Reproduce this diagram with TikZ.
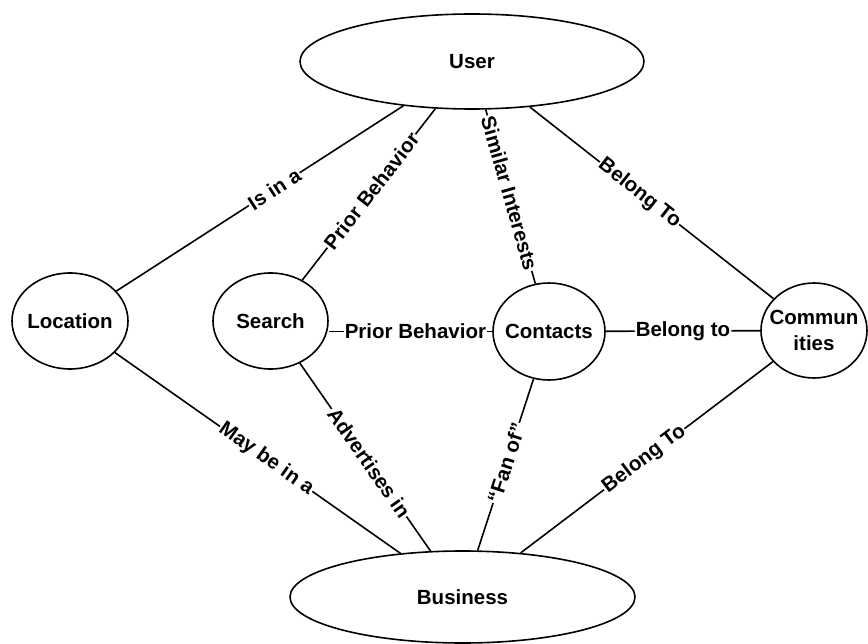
\documentclass[tikz,border=0pt]{standalone}
\usepackage{fontspec}
\setmainfont{Liberation Sans}
\usetikzlibrary{shapes.geometric}

\begin{document}
\begin{tikzpicture}[x=1pt, y=-1pt,
  every node/.style={font=\fontsize{20.5}{26}\selectfont\bfseries},
  entity/.style={draw, ellipse, line width=1.6pt, inner sep=0pt},
  link/.style={line width=1.6pt},
  tag/.style={fill=white, inner sep=1pt, sloped}]
\useasboundingbox (0,0) rectangle (868,644);

% entities
\node[entity, minimum width=344pt, minimum height=95pt, label=center:User] (user) at (472,61.5) {};
\node[entity, minimum width=345pt, minimum height=92pt, label=center:Business] (biz) at (462.5,597) {};
\node[entity, minimum width=116pt, minimum height=96pt, label=center:Location] (loc) at (70,321) {};
\node[entity, minimum width=115pt, minimum height=96pt, label=center:Search] (search) at (270.5,321) {};
\node[entity, minimum width=112pt, minimum height=97pt, label=center:Contacts] (contacts) at (549,331.5) {};
\node[entity, minimum width=106pt, minimum height=95pt, label={[align=center]center:Commun\\ities}] (comm) at (814,330.5) {};

% relations
\draw[link] (loc) -- node[tag, pos=0.55] {Is in a} (user);
\draw[link] (search) -- node[tag, pos=0.52] {Prior Behavior} (user);
\draw[link] (user) -- node[tag, pos=0.48] {Similar Interests} (contacts);
\draw[link] (user) -- node[tag, pos=0.45] {Belong To} (comm);
\draw[link] (search.east |- contacts.west) -- node[tag, pos=0.53] {Prior Behavior} (contacts.west);
\draw[link] (contacts) -- node[tag, pos=0.5] {Belong to} (comm);
\draw[link] (loc) -- node[tag, pos=0.53] {May be in a} (biz);
\draw[link] (search) -- node[tag, pos=0.53] {Advertises in} (biz);
\draw[link] (contacts) -- node[tag, pos=0.49] {“Fan of”} (biz);
\draw[link] (comm) -- node[tag, pos=0.51] {Belong To} (biz);
\end{tikzpicture}
\end{document}
